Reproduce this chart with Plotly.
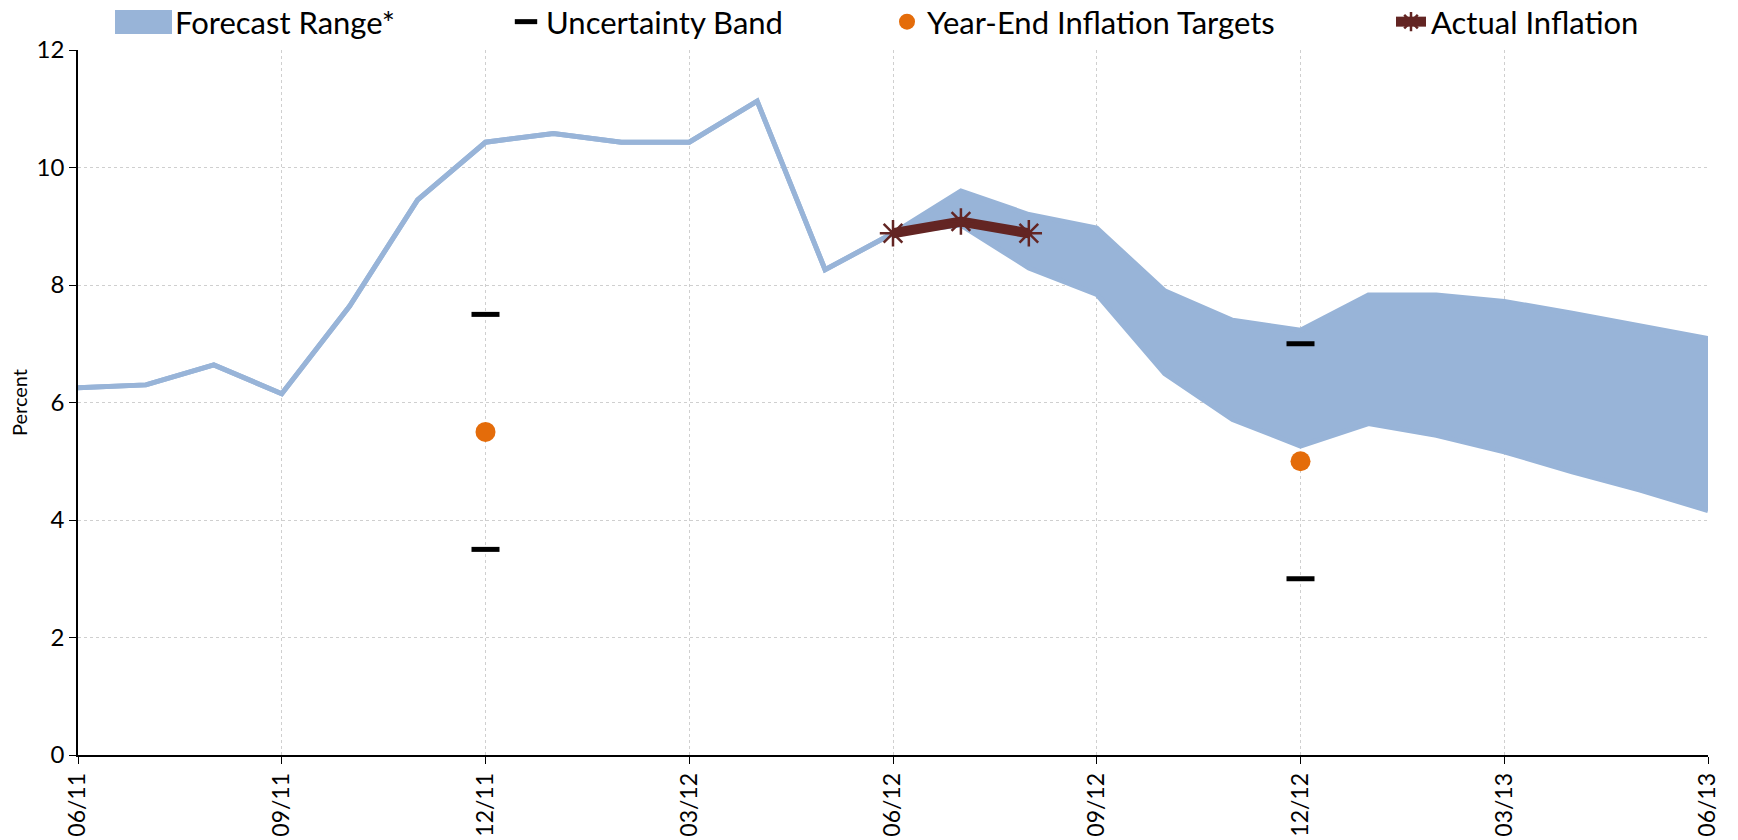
import plotly.graph_objects as go

months = ["06/11", "07/11", "08/11", "09/11", "10/11", "11/11", "12/11", "01/12", "02/12",
          "03/12", "04/12", "05/12", "06/12", "07/12", "08/12", "09/12", "10/12", "11/12",
          "12/12", "01/13", "02/13", "03/13", "04/13", "05/13", "06/13"]
forecast_upper = [6.25, 6.30, 6.64, 6.15, 7.64, 9.45, 10.43, 10.58, 10.43, 10.43, 11.13, 8.26,
                  8.88, 9.60, 9.20, 8.97, 7.90, 7.40, 7.23, 7.83, 7.83, 7.72, 7.52, 7.30, 7.09]
forecast_lower = [6.25, 6.30, 6.64, 6.15, 7.64, 9.45, 10.43, 10.58, 10.43, 10.43, 11.13, 8.26,
                  8.88, 9.02, 8.29, 7.84, 6.49, 5.71, 5.26, 5.64, 5.44, 5.16, 4.82, 4.51, 4.16]
band_months = ["12/11", "12/11", "12/12", "12/12"]
band_values = [7.5, 3.5, 7.0, 3.0]
target_months = ["12/11", "12/12"]
target_values = [5.5, 5.0]
actual_months = ["06/12", "07/12", "08/12"]
actual_values = [8.88, 9.08, 8.88]
tick_labels = ["06/11", "09/11", "12/11", "03/12", "06/12", "09/12", "12/12", "03/13", "06/13"]

idx = {m: i for i, m in enumerate(months)}
FONT = "Lato"
BLUE = "#98B4D8"
LEG_SIZE = 31

fig = go.Figure()
fig.add_trace(go.Scatter(x=list(range(len(months))), y=forecast_upper, mode="lines",
                         line=dict(color=BLUE, width=5), showlegend=False, hoverinfo="skip"))
fig.add_trace(go.Scatter(x=list(range(len(months))), y=forecast_lower, mode="lines",
                         line=dict(color=BLUE, width=5), fill="tonexty", fillcolor=BLUE,
                         name="Forecast Range*", showlegend=False))
fig.add_trace(go.Scatter(x=[idx[m] for m in band_months], y=band_values, mode="markers",
                         marker=dict(symbol="line-ew", size=20, line=dict(color="black", width=5)),
                         name="Uncertainty Band", legend="legend2"))
fig.add_trace(go.Scatter(x=[idx[m] for m in target_months], y=target_values, mode="markers",
                         marker=dict(symbol="circle", size=20, color="#E46C0A"),
                         name="Year-End Inflation Targets", legend="legend3"))
fig.add_trace(go.Scatter(x=[idx[m] for m in actual_months], y=actual_values, mode="lines+markers",
                         line=dict(color="#632523", width=10),
                         marker=dict(symbol="asterisk-open", size=22, color="#632523",
                                     line=dict(color="#632523", width=2.5)),
                         name="Actual Inflation", legend="legend4"))

L, R, T, B = 78, 30, 50, 85
W = 1738 - L - R
H = 840 - T - B
def px_x(px):
    return (px - L) / W
def px_y(py):
    return (840 - B - py) / H

LEG_Y = px_y(22)
legend_common = dict(orientation="h", yanchor="middle", y=LEG_Y, xanchor="left",
                     font=dict(family=FONT, size=LEG_SIZE, color="black"),
                     bgcolor="rgba(0,0,0,0)", itemwidth=30)

# Legend swatch for the forecast range (filled rectangle, as in the original)
fig.add_shape(type="rect", xref="paper", yref="paper",
              x0=px_x(115), x1=px_x(172), y0=px_y(34), y1=px_y(10),
              fillcolor=BLUE, line=dict(width=0))
fig.add_annotation(text="Forecast Range*", xref="paper", yref="paper",
                   x=px_x(173), y=LEG_Y, xanchor="left", yanchor="middle", showarrow=False,
                   font=dict(family=FONT, size=LEG_SIZE, color="black"))

fig.update_layout(
    width=1738, height=840,
    margin=dict(l=L, r=R, t=T, b=B, autoexpand=False),
    paper_bgcolor="white", plot_bgcolor="white",
    font=dict(family=FONT, color="black"),
    legend2=dict(legend_common, x=px_x(506)),
    legend3=dict(legend_common, x=px_x(887)),
    legend4=dict(legend_common, x=px_x(1391)),
    xaxis=dict(range=[0, 24], tickvals=[idx[t] for t in tick_labels], ticktext=tick_labels,
               tickangle=-90, tickfont=dict(family=FONT, size=23),
               showgrid=True, gridcolor="#CFCFCF", griddash="dot", gridwidth=1,
               showline=True, linecolor="black", linewidth=1.5,
               ticks="outside", ticklen=7, tickcolor="black", zeroline=False),
    yaxis=dict(range=[0, 12], dtick=2, tickfont=dict(family=FONT, size=24),
               showgrid=True, gridcolor="#CFCFCF", griddash="dot", gridwidth=1,
               showline=True, linecolor="black", linewidth=1.5,
               ticks="outside", ticklen=7, tickcolor="black", zeroline=False,
               title=dict(text="Percent", font=dict(family=FONT, size=20), standoff=4)),
)
fig.write_html("out.html", config={"displayModeBar": False},
               post_script="document.body.style.margin='0';document.body.style.overflow='hidden';")
